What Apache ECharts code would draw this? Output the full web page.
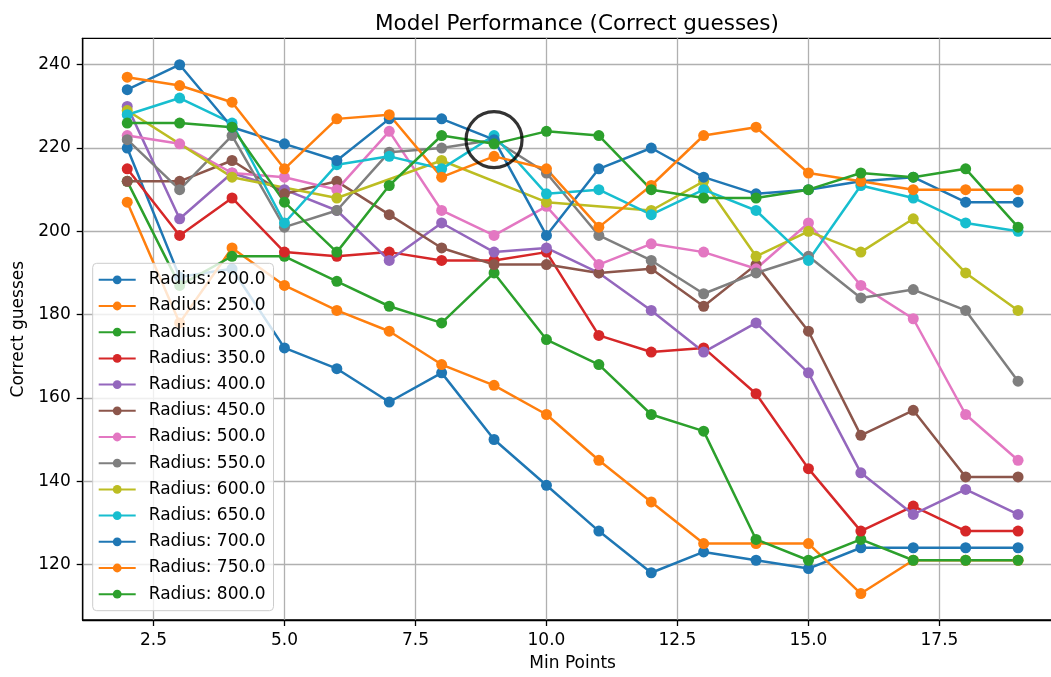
<!DOCTYPE html>
<html>
<head>
<meta charset="utf-8">
<title>Model Performance</title>
<script src="https://cdn.jsdelivr.net/npm/echarts@6/dist/echarts.min.js"></script>
<style>
    html, body { margin: 0; padding: 0; background: #fff; overflow: hidden; }
    /* 原图右侧被裁掉, 容器比窗口略宽 */
    #myChart { width: 1064px; height: 677px; }
</style>
</head>
<body>
<div id="myChart"></div>
<script>
// x 轴: Min Points
var minPoints = [2, 3, 4, 5, 6, 7, 8, 9, 10, 11, 12, 13, 14, 15, 16, 17, 18, 19];
// radius 600 只有部分点
var minPoints600 = [2, 4, 6, 8, 10, 12, 13, 14, 15, 16, 17, 18, 19];

var radius200 = [220, 189, 191, 172, 167, 159, 166, 150, 139, 128, 118, 123, 121, 119, 124, 124, 124, 124];
var radius250 = [207, 178, 196, 187, 181, 176, 168, 163, 156, 145, 135, 125, 125, 125, 113, 121, 121, 121];
var radius300 = [212, 187, 194, 194, 188, 182, 178, 190, 174, 168, 156, 152, 126, 121, 126, 121, 121, 121];
var radius350 = [215, 199, 208, 195, 194, 195, 193, 193, 195, 175, 171, 172, 161, 143, 128, 134, 128, 128];
var radius400 = [230, 203, 214, 210, 205, 193, 202, 195, 196, 190, 181, 171, 178, 166, 142, 132, 138, 132];
var radius450 = [212, 212, 217, 209, 212, 204, 196, 192, 192, 190, 191, 182, 192, 176, 151, 157, 141, 141];
var radius500 = [223, 221, 214, 213, 210, 224, 205, 199, 206, 192, 197, 195, 191, 202, 187, 179, 156, 145];
var radius550 = [222, 210, 223, 201, 205, 219, 220, 222, 214, 199, 193, 185, 190, 194, 184, 186, 181, 164];
var radius600 = [229, 213, 208, 217, 207, 205, 212, 194, 200, 195, 203, 190, 181];
var radius650 = [228, 232, 226, 202, 216, 218, 215, 223, 209, 210, 204, 210, 205, 193, 211, 208, 202, 200];
var radius700 = [234, 240, 225, 221, 217, 227, 227, 222, 199, 215, 220, 213, 209, 210, 212, 213, 207, 207];
var radius750 = [237, 235, 231, 215, 227, 228, 213, 218, 215, 201, 211, 223, 225, 214, 212, 210, 210, 210];
var radius800 = [226, 226, 225, 207, 195, 211, 223, 221, 224, 223, 210, 208, 208, 210, 214, 213, 215, 201];

// 圈出的点
var highlightPoint = [9, 222];

var xTicks = [2.5, 5.0, 7.5, 10.0, 12.5, 15.0, 17.5];
var yTicks = [120, 140, 160, 180, 200, 220, 240];

var colors = ['#1f77b4', '#ff7f0e', '#2ca02c', '#d62728', '#9467bd', '#8c564b',
    '#e377c2', '#7f7f7f', '#bcbd22', '#17becf', '#1f77b4', '#ff7f0e', '#2ca02c'];

var font = 'DejaVu Sans';

/**
 * 拼成 [x, y]
 */
var pairs = function (xs, ys) {
    var out = [];
    for (var i = 0; i < ys.length; i++) {
        out.push([xs[i], ys[i]]);
    }
    return out;
};

var lineSeries = function (name, xs, ys, color) {
    return {
        name: name,
        type: 'line',
        data: pairs(xs, ys),
        symbol: 'circle',
        symbolSize: 11,
        showAllSymbol: true,
        lineStyle: {width: 2.5, color: color},
        itemStyle: {color: color},
        emphasis: {disabled: true}
    };
};

var axisCommon = {
    axisLine: {show: true, onZero: false, lineStyle: {color: '#000', width: 1.3}},
    axisTick: {show: true, length: 6, lineStyle: {color: '#000', width: 1.3}},
    splitLine: {show: true, lineStyle: {color: '#b0b0b0', width: 1.3}},
    nameTextStyle: {fontFamily: font, fontSize: 17, color: '#000'}
};

var radiusData = [
    ['Radius: 200.0', minPoints, radius200],
    ['Radius: 250.0', minPoints, radius250],
    ['Radius: 300.0', minPoints, radius300],
    ['Radius: 350.0', minPoints, radius350],
    ['Radius: 400.0', minPoints, radius400],
    ['Radius: 450.0', minPoints, radius450],
    ['Radius: 500.0', minPoints, radius500],
    ['Radius: 550.0', minPoints, radius550],
    ['Radius: 600.0', minPoints600, radius600],
    ['Radius: 650.0', minPoints, radius650],
    ['Radius: 700.0', minPoints, radius700],
    ['Radius: 750.0', minPoints, radius750],
    ['Radius: 800.0', minPoints, radius800]
];

var series = [], legend = [];
radiusData.forEach(function (r, i) {
    legend.push(r[0]);
    series.push(lineSeries(r[0], r[1], r[2], colors[i]));
});

series.push({
    name: 'highlight',
    type: 'scatter',
    data: [highlightPoint],
    symbol: 'circle',
    symbolSize: 56,
    z: 10,
    itemStyle: {color: 'rgba(0,0,0,0)', borderColor: '#000', borderWidth: 3.2},
    emphasis: {disabled: true},
    silent: true
});

var myChart = echarts.init(document.getElementById('myChart'), null, {renderer: 'canvas'});
myChart.setOption({
    animation: false,
    textStyle: {fontFamily: font},
    title: {
        text: 'Model Performance (Correct guesses)',
        left: 572,
        top: 8,
        textAlign: 'center',
        textStyle: {fontFamily: font, fontSize: 21.5, fontWeight: 'normal', color: '#000'}
    },
    grid: {
        left: 82.7, right: 1.4, top: 38.3, bottom: 56.7, containLabel: false,
        show: true, borderColor: '#000', borderWidth: 1.3, backgroundColor: 'rgba(0,0,0,0)'
    },
    legend: {
        data: legend,
        orient: 'vertical',
        left: 92.7,
        top: 263.3,
        padding: [8, 8, 8, 5],
        itemWidth: 37,
        itemHeight: 11,
        itemGap: 9.2,
        backgroundColor: 'rgba(255,255,255,0.8)',
        borderColor: '#cccccc',
        borderWidth: 1,
        borderRadius: 4,
        selectedMode: false,
        textStyle: {fontFamily: font, fontSize: 17, color: '#000', lineHeight: 17, padding: [0, 0, 0, 8]}
    },
    xAxis: Object.assign({}, axisCommon, {
        type: 'value',
        min: 1.15,
        max: 19.85,
        name: 'Min Points',
        nameLocation: 'middle',
        nameGap: 35,
        axisTick: Object.assign({}, axisCommon.axisTick, {customValues: xTicks}),
        axisLabel: {
            customValues: xTicks, margin: 12, fontFamily: font, fontSize: 17, color: '#000',
            formatter: function (v) { return v.toFixed(1); }
        }
    }),
    yAxis: Object.assign({}, axisCommon, {
        type: 'value',
        min: 106.65,
        max: 246.35,
        name: 'Correct guesses',
        nameLocation: 'middle',
        nameRotate: 90,
        nameGap: 52,
        axisTick: Object.assign({}, axisCommon.axisTick, {customValues: yTicks}),
        axisLabel: {customValues: yTicks, margin: 12, fontFamily: font, fontSize: 17, color: '#000'}
    }),
    series: series
});
</script>
</body>
</html>
